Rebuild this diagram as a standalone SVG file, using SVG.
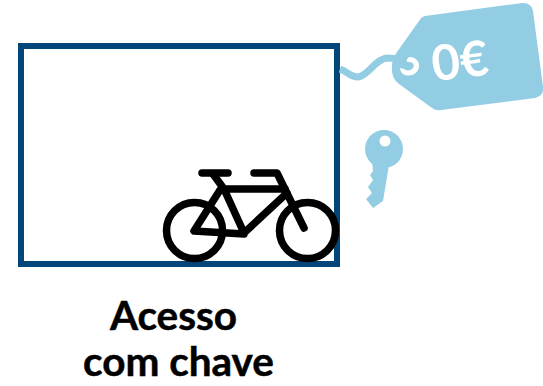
<svg xmlns="http://www.w3.org/2000/svg" width="543" height="386" viewBox="0 0 543 386">
<style>
.bike{fill:none;stroke:#000;stroke-linecap:round;stroke-linejoin:round;stroke-width:7.500}
.lab{font-family:"Lato","Liberation Sans",sans-serif;font-weight:700;font-size:40.5px;fill:#000;stroke:#000;stroke-width:.5;text-anchor:middle}
</style>
<g id="frame"><rect x="21" y="46" width="316" height="218" fill="none" stroke="#00467a" stroke-width="6"/></g>
<g id="bike" class="bike">
<circle cx="194.500" cy="230.500" r="28"/>
<circle cx="307.500" cy="230.500" r="28"/>
<path d="M202 173H228"/>
<path d="M254 173H277L304 228"/>
<path d="M213 174L224 189L244 233L287 193M222 189H285M220 190L194 231L244 234"/>
</g>
<g id="tag">
<path fill="#93cde4" d="M425 16L522 3Q531 2 533 11L543 87Q544 96 535 98L441 110Q436 111 432 108L399 84Q392 79 392 70Q391 60 397 52L419 21Q421 17 425 16Z"/>
<path fill="none" stroke="#93cde4" stroke-width="7" d="M340 69C348 72 351 77 358 77C368 76 376 58 388 58L400 59"/>
<path fill="#fff" d="M409 57C416 57 420 62 419 67C418 73 412 77 405 75C402 74 400 71 400 68L404 69C406 71 411 71 413 68C415 65 413 62 409 62C407 62 405 61 409 57Z"/>
<text x="460" y="78" transform="rotate(-7 460 62)" font-family="Lato,'Liberation Sans',sans-serif" font-weight="700" font-size="49" fill="#fff" text-anchor="middle">0€</text>
</g>
<g id="key">
<circle cx="384" cy="149" r="19" fill="#93cde4"/>
<path fill="#93cde4" d="M372 160L389 165L383 201L373 208L366 199L372 193L368 187L373 180L370 175L373 171Z"/>
<circle cx="385" cy="141" r="5.500" fill="#fff"/>
</g>
<g id="label">
<text class="lab" x="173.500" y="330">Acesso</text>
<text class="lab" x="178.500" y="376">com chave</text>
</g>
</svg>
